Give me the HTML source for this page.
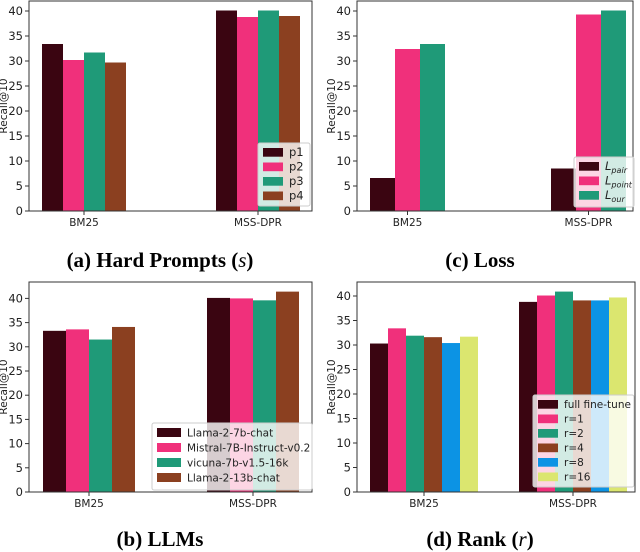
<!DOCTYPE html>
<html><head><meta charset="utf-8"><style>
body{margin:0;background:#fff;width:640px;height:552px;overflow:hidden;position:relative}
svg{position:absolute;left:0;top:0}
.cap{position:absolute;font-family:"Liberation Serif",serif;font-weight:bold;font-size:21px;text-align:center;width:320px}
</style></head><body>
<svg id="chart" width="640" height="552"></svg>
<div class="cap" style="left:0;top:248px">(a) Hard Prompts (<i style="font-weight:normal">s</i>)</div>
<div class="cap" style="left:320px;top:248px">(c) Loss</div>
<div class="cap" style="left:0;top:527px">(b) LLMs</div>
<div class="cap" style="left:320px;top:527px">(d) Rank (<i style="font-weight:normal">r</i>)</div>
<script>
const categories = ["BM25","MSS-DPR"];
const yTicks = [0,5,10,15,20,25,30,35,40];
const seriesA = [[33.4,40.1],[30.2,38.8],[31.7,40.1],[29.7,39.0]];
const namesA = ["p1","p2","p3","p4"];
const seriesC = [[6.6,8.5],[32.4,39.3],[33.4,40.1]];
const namesC = ["pair","point","our"];
const seriesB = [[33.3,40.1],[33.6,40.0],[31.5,39.6],[34.1,41.4]];
const namesB = ["Llama-2-7b-chat","Mistral-7B-Instruct-v0.2","vicuna-7b-v1.5-16k","Llama-2-13b-chat"];
const seriesD = [[30.3,38.8],[33.4,40.1],[31.9,40.9],[31.6,39.1],[30.4,39.1],[31.7,39.7]];
const namesD = ["full fine-tune","r=1","r=2","r=4","r=8","r=16"];
const colors = ["#3a0511","#f0307b","#1f9a78","#8b4020","#0c93e4","#dbe66f"];

const svg = document.getElementById('chart');
const NS = "http://www.w3.org/2000/svg";
function mk(tag, attrs, parent){const e=document.createElementNS(NS,tag);for(const k in attrs)e.setAttribute(k,attrs[k]);(parent||svg).appendChild(e);return e;}

function panel(p){
  const g = mk('g',{});
  
  
  const y = v => p.bottom - v*p.ppu;
  p.series.forEach((s,si)=>{
    s.forEach((v,ci)=>{
      const x = p.groupX[ci] - p.series.length*p.bw/2 + si*p.bw;
      const r = mk('rect',{x:x,y:y(v),width:p.bw,height:p.bottom-y(v),fill:colors[si]},g);
      
      
    });
  });
  const fr = mk('rect',{x:p.left,y:p.top,width:p.right-p.left,height:p.bottom-p.top,fill:'none',stroke:'#333','stroke-width':1},g);
  
  
  yTicks.forEach(t=>{
    mk('line',{x1:p.left-4,x2:p.left,y1:y(t),y2:y(t),stroke:'#333'},g);
    const tx = mk('text',{x:p.left-6,y:y(t)+4,'text-anchor':'end','font-size':11.5,'font-family':'DejaVu Sans, sans-serif',fill:'#222'},g);
    tx.textContent = t;
    
    
  });
  categories.forEach((c,ci)=>{
    mk('line',{x1:p.groupX[ci],x2:p.groupX[ci],y1:p.bottom,y2:p.bottom+4,stroke:'#333'},g);
    const tx = mk('text',{x:p.groupX[ci],y:p.bottom+15,'text-anchor':'middle','font-size':10.5,'font-family':'DejaVu Sans, sans-serif',fill:'#222'},g);
    tx.textContent = c;
    
    
  });
  const yl = mk('text',{x:0,y:0,transform:`translate(${p.left-22},${(p.top+p.bottom)/2}) rotate(-90)`,'text-anchor':'middle','font-size':10.5,'font-family':'DejaVu Sans, sans-serif',fill:'#222'},g);
  yl.textContent = 'Recall@10';
  
  
  const L = p.legend;
  const lg = mk('g',{},g);
  
  
  mk('rect',{x:L.x,y:L.y,width:L.w,height:L.h,rx:2,fill:'rgba(255,255,255,0.8)',stroke:'#ccc'},lg);
  p.names.forEach((n,i)=>{
    const yy = L.y+5+i*L.step;
    mk('rect',{x:L.x+5,y:yy,width:L.sw,height:L.step*0.6,fill:colors[i]},lg);
    const tx = mk('text',{x:L.x+L.sw+11,y:yy+L.step*0.55,'font-size':L.fs,'font-family':'DejaVu Sans, sans-serif',fill:'#222'},lg);
    if(p.math){
      tx.setAttribute('font-style','italic');
      tx.textContent='L';
      const s=mk('tspan',{'font-size':L.fs*0.7,dy:3},tx); s.textContent=n;
    } else tx.textContent = n;
    
    
  });
}

panel({id:'a',series:seriesA,names:namesA,left:29,right:312,top:1,bottom:211,ppu:5,groupX:[84,258],bw:21,
  legend:{x:258,y:143,w:52,h:63,step:14.5,sw:20,fs:11.5}});
panel({id:'c',series:seriesC,names:namesC,math:true,left:357,right:633,top:1,bottom:211,ppu:5,groupX:[407.5,588.5],bw:25,
  legend:{x:574,y:157,w:60,h:50,step:14.5,sw:20,fs:11.5}});
panel({id:'b',series:seriesB,names:namesB,left:29,right:312,top:282,bottom:492,ppu:4.84,groupX:[89,253],bw:23,
  legend:{x:152,y:423,w:160,h:67,step:15,sw:24,fs:10.5}});
panel({id:'d',series:seriesD,names:namesD,left:357,right:635,top:282,bottom:492,ppu:4.9,groupX:[424,573],bw:18,
  legend:{x:533,y:395,w:101,h:92,step:14.5,sw:20,fs:10.5}});
</script>
</body></html>
